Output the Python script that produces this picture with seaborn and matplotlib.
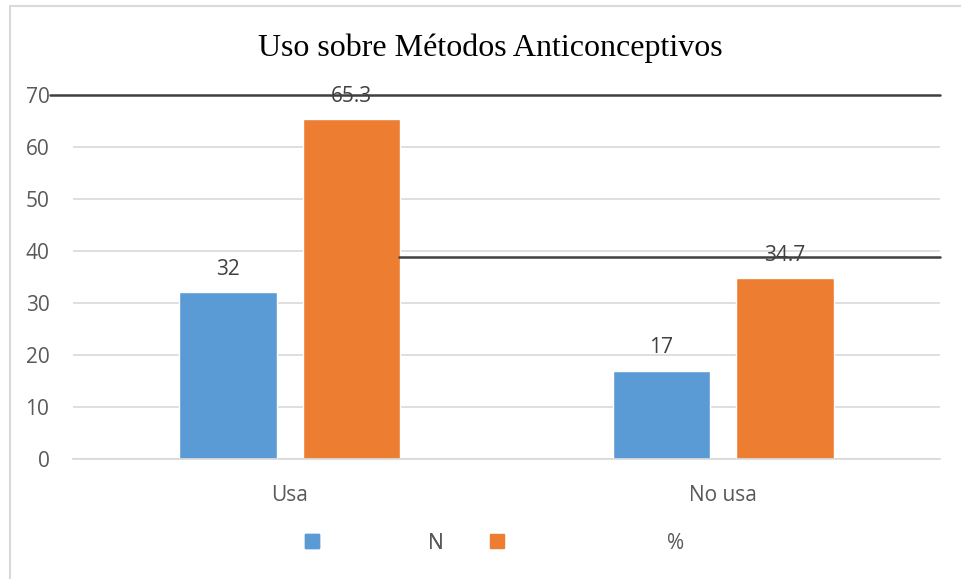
import matplotlib
matplotlib.use("Agg")
import matplotlib.pyplot as plt
from matplotlib.patches import Patch, Rectangle
import pandas as pd
import seaborn as sns

# chart data
categories = ["Usa", "No usa"]
series = ["N", "%"]
n_values = [32, 17]
pct_values = [65.3, 34.7]
yticks = [0, 10, 20, 30, 40, 50, 60, 70]

# stray dark rules visible in the source image (data units)
rule_top = 70
rule_mid = 38.85

BLUE = "#5B9BD5"
ORANGE = "#ED7D31"
TXT = "#595959"

sns.set_theme(style="white")
plt.rcParams["font.family"] = ["Open Sans", "DejaVu Sans"]

df = pd.DataFrame({
    "cat": categories * 2,
    "serie": [series[0]] * 2 + [series[1]] * 2,
    "val": n_values + pct_values,
})

fig = plt.figure(figsize=(9.61, 5.79), dpi=100)
ax = fig.add_axes([0.076, 0.2073, 0.902, 0.629])

sns.barplot(data=df, x="cat", y="val", hue="serie", order=categories,
            hue_order=series, palette=[BLUE, ORANGE], width=0.57, gap=0.21,
            saturation=1, legend=False, ax=ax)

for cont in ax.containers:
    ax.bar_label(cont, labels=[f"{v:g}" for v in cont.datavalues],
                 padding=9, fontsize=15, color="#404040")

ax.set_ylim(0, 70)
ax.set_yticks(yticks)
ax.yaxis.grid(True, color="#D9D9D9", lw=1.2)
ax.set_axisbelow(True)
for s in ax.spines.values():
    s.set_visible(False)
ax.spines["bottom"].set_visible(True)
ax.spines["bottom"].set_color("#D9D9D9")
ax.tick_params(axis="y", length=0, pad=17, labelsize=15, labelcolor=TXT)
ax.tick_params(axis="x", length=0, pad=19, labelsize=15, labelcolor=TXT)
ax.set_xlabel("")
ax.set_ylabel("")

# dark rules crossing the plot
ax.axhline(rule_top, xmin=-23 / 867, xmax=1, color="#404040", lw=1.8, clip_on=False, zorder=5)
ax.axhline(rule_mid, xmin=326 / 867, xmax=1, color="#404040", lw=1.8, clip_on=False, zorder=5)

fig.suptitle("Uso sobre Métodos Anticonceptivos", family="Liberation Serif",
             fontsize=23, color="black", x=0.5104, y=0.943)

# legend entries, placed one by one like the original
leg1 = fig.legend(handles=[Patch(color=BLUE, label="N")], loc="center left",
                  bbox_to_anchor=(0.3175, 0.062), frameon=False, fontsize=15,
                  handlelength=0.675, handleheight=0.675, handletextpad=5.24,
                  labelcolor=TXT, borderaxespad=0, borderpad=0)
fig.legend(handles=[Patch(color=ORANGE, label="%")], loc="center left",
           bbox_to_anchor=(0.5095, 0.062), frameon=False, fontsize=15,
           handlelength=0.675, handleheight=0.675, handletextpad=7.83,
           labelcolor=TXT, borderaxespad=0, borderpad=0)
fig.add_artist(leg1)

# outer chart frame
fig.add_artist(Rectangle((9.5 / 961, -0.05), 1.1, 1 - 5.5 / 579 + 0.05,
                         transform=fig.transFigure, fill=False,
                         edgecolor="#D9D9D9", lw=1.5))

fig.savefig("out.png", dpi=100)
